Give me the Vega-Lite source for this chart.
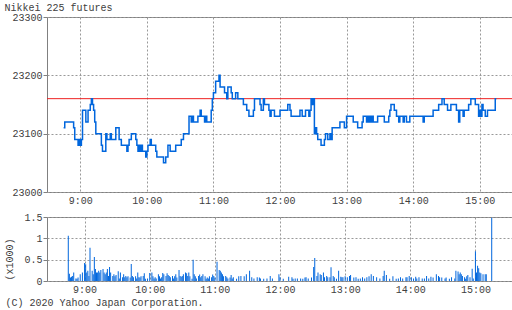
{
 "$schema": "https://vega.github.io/schema/vega-lite/v6.json",
 "background": "white",
 "padding": {"left": 3, "top": 1, "right": 0, "bottom": 0},
 "spacing": 5,
 "config": {
  "font": "Liberation Mono",
  "view": {"stroke": "#808080"},
  "axis": {"domain": false, "labelFont": "Liberation Mono", "labelFontSize": 10, "labelColor": "#404040", "titleFont": "Liberation Mono", "titleFontSize": 10, "titleFontWeight": "normal", "titleColor": "#404040", "tickColor": "#808080", "gridColor": "#999999", "gridDash": [2, 2]}
 },
 "vconcat": [
  {
   "width": 466, "height": 175,
   "layer": [
    {
     "data": {"values": [{"t":"2020-09-01T08:30","p":23160},{"t":"2020-09-01T15:30","p":23160}]},
     "mark": {"type": "line", "color": "#ee2222", "strokeWidth": 1},
     "encoding": {
      "x": {"field": "t", "type": "temporal", "scale": {"nice": false}},
      "y": {"field": "p", "type": "quantitative", "scale": {"domain": [23000, 23300]}}
     }
    },
    {
     "data": {"values": [
      {"t":"2020-09-01T08:45","p":23110},{"t":"2020-09-01T08:46","p":23120},{"t":"2020-09-01T08:54","p":23110},{"t":"2020-09-01T08:55","p":23090},{"t":"2020-09-01T08:58","p":23080},{"t":"2020-09-01T08:59","p":23090},{"t":"2020-09-01T09:00","p":23080},{"t":"2020-09-01T09:01","p":23090},{"t":"2020-09-01T09:02","p":23140},{"t":"2020-09-01T09:05","p":23120},{"t":"2020-09-01T09:07","p":23140},{"t":"2020-09-01T09:09","p":23150},{"t":"2020-09-01T09:10","p":23160},{"t":"2020-09-01T09:11","p":23150},{"t":"2020-09-01T09:12","p":23140},{"t":"2020-09-01T09:13","p":23120},{"t":"2020-09-01T09:14","p":23100},{"t":"2020-09-01T09:19","p":23080},{"t":"2020-09-01T09:20","p":23070},{"t":"2020-09-01T09:23","p":23100},{"t":"2020-09-01T09:24","p":23090},{"t":"2020-09-01T09:27","p":23100},{"t":"2020-09-01T09:28","p":23090},{"t":"2020-09-01T09:32","p":23110},{"t":"2020-09-01T09:35","p":23090},{"t":"2020-09-01T09:37","p":23080},{"t":"2020-09-01T09:42","p":23070},{"t":"2020-09-01T09:43","p":23080},{"t":"2020-09-01T09:44","p":23090},{"t":"2020-09-01T09:46","p":23100},{"t":"2020-09-01T09:50","p":23090},{"t":"2020-09-01T09:51","p":23080},{"t":"2020-09-01T09:52","p":23070},{"t":"2020-09-01T09:53","p":23080},{"t":"2020-09-01T09:54","p":23070},{"t":"2020-09-01T09:55","p":23080},{"t":"2020-09-01T09:56","p":23070},{"t":"2020-09-01T09:59","p":23060},{"t":"2020-09-01T10:00","p":23070},{"t":"2020-09-01T10:01","p":23080},{"t":"2020-09-01T10:03","p":23090},{"t":"2020-09-01T10:04","p":23080},{"t":"2020-09-01T10:08","p":23070},{"t":"2020-09-01T10:09","p":23060},{"t":"2020-09-01T10:15","p":23050},{"t":"2020-09-01T10:17","p":23060},{"t":"2020-09-01T10:19","p":23080},{"t":"2020-09-01T10:21","p":23070},{"t":"2020-09-01T10:26","p":23080},{"t":"2020-09-01T10:31","p":23090},{"t":"2020-09-01T10:33","p":23100},{"t":"2020-09-01T10:38","p":23130},{"t":"2020-09-01T10:40","p":23120},{"t":"2020-09-01T10:41","p":23130},{"t":"2020-09-01T10:42","p":23120},{"t":"2020-09-01T10:46","p":23130},{"t":"2020-09-01T10:48","p":23140},{"t":"2020-09-01T10:49","p":23130},{"t":"2020-09-01T10:52","p":23120},{"t":"2020-09-01T10:53","p":23130},{"t":"2020-09-01T10:54","p":23120},{"t":"2020-09-01T10:58","p":23140},{"t":"2020-09-01T10:59","p":23160},{"t":"2020-09-01T11:00","p":23170},{"t":"2020-09-01T11:02","p":23190},{"t":"2020-09-01T11:05","p":23200},{"t":"2020-09-01T11:06","p":23180},{"t":"2020-09-01T11:10","p":23170},{"t":"2020-09-01T11:12","p":23160},{"t":"2020-09-01T11:13","p":23180},{"t":"2020-09-01T11:16","p":23170},{"t":"2020-09-01T11:17","p":23160},{"t":"2020-09-01T11:20","p":23170},{"t":"2020-09-01T11:22","p":23160},{"t":"2020-09-01T11:27","p":23150},{"t":"2020-09-01T11:30","p":23140},{"t":"2020-09-01T11:32","p":23130},{"t":"2020-09-01T11:36","p":23140},{"t":"2020-09-01T11:37","p":23160},{"t":"2020-09-01T11:42","p":23150},{"t":"2020-09-01T11:43","p":23140},{"t":"2020-09-01T11:45","p":23160},{"t":"2020-09-01T11:46","p":23150},{"t":"2020-09-01T11:50","p":23140},{"t":"2020-09-01T11:51","p":23130},{"t":"2020-09-01T11:52","p":23140},{"t":"2020-09-01T11:55","p":23130},{"t":"2020-09-01T12:00","p":23140},{"t":"2020-09-01T12:07","p":23150},{"t":"2020-09-01T12:09","p":23140},{"t":"2020-09-01T12:10","p":23130},{"t":"2020-09-01T12:18","p":23140},{"t":"2020-09-01T12:20","p":23130},{"t":"2020-09-01T12:23","p":23140},{"t":"2020-09-01T12:26","p":23130},{"t":"2020-09-01T12:27","p":23140},{"t":"2020-09-01T12:28","p":23160},{"t":"2020-09-01T12:29","p":23150},{"t":"2020-09-01T12:30","p":23160},{"t":"2020-09-01T12:31","p":23100},{"t":"2020-09-01T12:32","p":23110},{"t":"2020-09-01T12:33","p":23100},{"t":"2020-09-01T12:34","p":23090},{"t":"2020-09-01T12:37","p":23080},{"t":"2020-09-01T12:40","p":23090},{"t":"2020-09-01T12:41","p":23100},{"t":"2020-09-01T12:43","p":23090},{"t":"2020-09-01T12:45","p":23100},{"t":"2020-09-01T12:46","p":23090},{"t":"2020-09-01T12:47","p":23110},{"t":"2020-09-01T12:54","p":23120},{"t":"2020-09-01T12:58","p":23110},{"t":"2020-09-01T13:00","p":23130},{"t":"2020-09-01T13:06","p":23120},{"t":"2020-09-01T13:10","p":23110},{"t":"2020-09-01T13:14","p":23120},{"t":"2020-09-01T13:15","p":23130},{"t":"2020-09-01T13:18","p":23120},{"t":"2020-09-01T13:19","p":23130},{"t":"2020-09-01T13:20","p":23120},{"t":"2020-09-01T13:21","p":23130},{"t":"2020-09-01T13:22","p":23120},{"t":"2020-09-01T13:23","p":23130},{"t":"2020-09-01T13:24","p":23120},{"t":"2020-09-01T13:28","p":23130},{"t":"2020-09-01T13:34","p":23120},{"t":"2020-09-01T13:38","p":23130},{"t":"2020-09-01T13:39","p":23140},{"t":"2020-09-01T13:40","p":23150},{"t":"2020-09-01T13:43","p":23140},{"t":"2020-09-01T13:45","p":23130},{"t":"2020-09-01T13:47","p":23120},{"t":"2020-09-01T13:48","p":23130},{"t":"2020-09-01T13:51","p":23120},{"t":"2020-09-01T13:52","p":23130},{"t":"2020-09-01T13:54","p":23120},{"t":"2020-09-01T13:57","p":23130},{"t":"2020-09-01T14:09","p":23120},{"t":"2020-09-01T14:10","p":23130},{"t":"2020-09-01T14:18","p":23140},{"t":"2020-09-01T14:23","p":23150},{"t":"2020-09-01T14:26","p":23160},{"t":"2020-09-01T14:28","p":23150},{"t":"2020-09-01T14:31","p":23140},{"t":"2020-09-01T14:34","p":23150},{"t":"2020-09-01T14:39","p":23140},{"t":"2020-09-01T14:41","p":23120},{"t":"2020-09-01T14:42","p":23140},{"t":"2020-09-01T14:45","p":23130},{"t":"2020-09-01T14:46","p":23140},{"t":"2020-09-01T14:50","p":23150},{"t":"2020-09-01T14:52","p":23160},{"t":"2020-09-01T14:56","p":23150},{"t":"2020-09-01T14:59","p":23130},{"t":"2020-09-01T15:00","p":23140},{"t":"2020-09-01T15:01","p":23130},{"t":"2020-09-01T15:02","p":23150},{"t":"2020-09-01T15:03","p":23140},{"t":"2020-09-01T15:05","p":23130},{"t":"2020-09-01T15:07","p":23140},{"t":"2020-09-01T15:14","p":23160},{"t":"2020-09-01T15:15","p":23160}
     ]},
     "mark": {"type": "line", "interpolate": "step-after", "color": "#0066dd", "strokeWidth": 1.5},
     "encoding": {
      "x": {"field": "t", "type": "temporal", "scale": {"nice": false},
       "axis": {"title": null, "tickCount": 7, "grid": true, "ticks": false, "labelPadding": 3, "format": "%-H:%M"}},
      "y": {"field": "p", "type": "quantitative", "scale": {"domain": [23000, 23300]},
       "axis": {"values": [23000, 23100, 23200, 23300], "format": "d", "grid": true, "tickSize": 4, "labelPadding": 1,
        "title": "Nikkei 225 futures", "titleAngle": 0, "titleAlign": "left", "titleBaseline": "middle", "titleX": -43, "titleY": -10}}
     }
    }
   ]
  },
  {
   "width": 466, "height": 64,
   "layer": [
    {
     "data": {"values": [{"t":"2020-09-01T08:30"},{"t":"2020-09-01T15:30"}]},
     "mark": {"type": "rule", "opacity": 0},
     "encoding": {"x": {"field": "t", "type": "temporal", "scale": {"nice": false}}}
    },
    {
     "data": {"values": [
      {"t":"2020-09-01T08:45","v":1.06},{"t":"2020-09-01T08:46","v":0.17},{"t":"2020-09-01T08:47","v":0.08},{"t":"2020-09-01T08:48","v":0.1},{"t":"2020-09-01T08:49","v":0.12},{"t":"2020-09-01T08:50","v":0.2},{"t":"2020-09-01T08:52","v":0.06},{"t":"2020-09-01T08:53","v":0.05},{"t":"2020-09-01T08:54","v":0.08},{"t":"2020-09-01T08:56","v":0.16},{"t":"2020-09-01T08:58","v":0.2},{"t":"2020-09-01T09:00","v":0.42},{"t":"2020-09-01T09:01","v":0.39},{"t":"2020-09-01T09:02","v":0.2},{"t":"2020-09-01T09:03","v":0.24},{"t":"2020-09-01T09:04","v":0.12},{"t":"2020-09-01T09:05","v":0.78},{"t":"2020-09-01T09:07","v":0.24},{"t":"2020-09-01T09:08","v":0.16},{"t":"2020-09-01T09:09","v":0.56},{"t":"2020-09-01T09:10","v":0.28},{"t":"2020-09-01T09:11","v":0.2},{"t":"2020-09-01T09:12","v":0.2},{"t":"2020-09-01T09:13","v":0.24},{"t":"2020-09-01T09:14","v":0.2},{"t":"2020-09-01T09:15","v":0.26},{"t":"2020-09-01T09:17","v":0.28},{"t":"2020-09-01T09:18","v":0.2},{"t":"2020-09-01T09:19","v":0.16},{"t":"2020-09-01T09:20","v":0.2},{"t":"2020-09-01T09:21","v":0.28},{"t":"2020-09-01T09:22","v":0.12},{"t":"2020-09-01T09:23","v":0.33},{"t":"2020-09-01T09:24","v":0.2},{"t":"2020-09-01T09:26","v":0.12},{"t":"2020-09-01T09:27","v":0.16},{"t":"2020-09-01T09:28","v":0.11},{"t":"2020-09-01T09:29","v":0.14},{"t":"2020-09-01T09:31","v":0.23},{"t":"2020-09-01T09:32","v":0.06},{"t":"2020-09-01T09:33","v":0.2},{"t":"2020-09-01T09:35","v":0.09},{"t":"2020-09-01T09:36","v":0.16},{"t":"2020-09-01T09:37","v":0.09},{"t":"2020-09-01T09:38","v":0.12},{"t":"2020-09-01T09:39","v":0.085},{"t":"2020-09-01T09:40","v":0.11},{"t":"2020-09-01T09:42","v":0.08},{"t":"2020-09-01T09:43","v":0.4},{"t":"2020-09-01T09:44","v":0.12},{"t":"2020-09-01T09:45","v":0.09},{"t":"2020-09-01T09:47","v":0.11},{"t":"2020-09-01T09:48","v":0.06},{"t":"2020-09-01T09:49","v":0.2},{"t":"2020-09-01T09:50","v":0.09},{"t":"2020-09-01T09:51","v":0.08},{"t":"2020-09-01T09:52","v":0.11},{"t":"2020-09-01T09:54","v":0.12},{"t":"2020-09-01T09:55","v":0.18},{"t":"2020-09-01T09:56","v":0.05},{"t":"2020-09-01T09:58","v":0.06},{"t":"2020-09-01T10:00","v":0.19},{"t":"2020-09-01T10:02","v":0.2},{"t":"2020-09-01T10:03","v":0.11},{"t":"2020-09-01T10:04","v":0.06},{"t":"2020-09-01T10:05","v":0.085},{"t":"2020-09-01T10:06","v":0.06},{"t":"2020-09-01T10:08","v":0.16},{"t":"2020-09-01T10:09","v":0.11},{"t":"2020-09-01T10:10","v":0.06},{"t":"2020-09-01T10:11","v":0.09},{"t":"2020-09-01T10:12","v":0.19},{"t":"2020-09-01T10:13","v":0.16},{"t":"2020-09-01T10:15","v":0.12},{"t":"2020-09-01T10:16","v":0.18},{"t":"2020-09-01T10:17","v":0.14},{"t":"2020-09-01T10:18","v":0.12},{"t":"2020-09-01T10:19","v":0.085},{"t":"2020-09-01T10:21","v":0.12},{"t":"2020-09-01T10:22","v":0.06},{"t":"2020-09-01T10:23","v":0.11},{"t":"2020-09-01T10:24","v":0.16},{"t":"2020-09-01T10:25","v":0.08},{"t":"2020-09-01T10:27","v":0.26},{"t":"2020-09-01T10:28","v":0.12},{"t":"2020-09-01T10:29","v":0.1},{"t":"2020-09-01T10:30","v":0.12},{"t":"2020-09-01T10:31","v":0.16},{"t":"2020-09-01T10:33","v":0.2},{"t":"2020-09-01T10:34","v":0.18},{"t":"2020-09-01T10:35","v":0.12},{"t":"2020-09-01T10:36","v":0.2},{"t":"2020-09-01T10:37","v":0.11},{"t":"2020-09-01T10:39","v":0.05},{"t":"2020-09-01T10:40","v":0.5},{"t":"2020-09-01T10:41","v":0.16},{"t":"2020-09-01T10:42","v":0.11},{"t":"2020-09-01T10:43","v":0.06},{"t":"2020-09-01T10:45","v":0.12},{"t":"2020-09-01T10:46","v":0.15},{"t":"2020-09-01T10:47","v":0.09},{"t":"2020-09-01T10:48","v":0.12},{"t":"2020-09-01T10:49","v":0.16},{"t":"2020-09-01T10:51","v":0.11},{"t":"2020-09-01T10:52","v":0.05},{"t":"2020-09-01T10:53","v":0.08},{"t":"2020-09-01T10:54","v":0.06},{"t":"2020-09-01T10:55","v":0.11},{"t":"2020-09-01T10:57","v":0.09},{"t":"2020-09-01T10:58","v":0.15},{"t":"2020-09-01T10:59","v":0.12},{"t":"2020-09-01T11:00","v":0.08},{"t":"2020-09-01T11:02","v":0.45},{"t":"2020-09-01T11:04","v":0.26},{"t":"2020-09-01T11:05","v":0.24},{"t":"2020-09-01T11:06","v":0.2},{"t":"2020-09-01T11:07","v":0.16},{"t":"2020-09-01T11:08","v":0.11},{"t":"2020-09-01T11:10","v":0.12},{"t":"2020-09-01T11:11","v":0.09},{"t":"2020-09-01T11:12","v":0.06},{"t":"2020-09-01T11:14","v":0.08},{"t":"2020-09-01T11:15","v":0.14},{"t":"2020-09-01T11:16","v":0.06},{"t":"2020-09-01T11:17","v":0.085},{"t":"2020-09-01T11:20","v":0.05},{"t":"2020-09-01T11:22","v":0.11},{"t":"2020-09-01T11:24","v":0.12},{"t":"2020-09-01T11:27","v":0.11},{"t":"2020-09-01T11:29","v":0.16},{"t":"2020-09-01T11:32","v":0.24},{"t":"2020-09-01T11:34","v":0.085},{"t":"2020-09-01T11:36","v":0.06},{"t":"2020-09-01T11:39","v":0.085},{"t":"2020-09-01T11:41","v":0.08},{"t":"2020-09-01T11:42","v":0.06},{"t":"2020-09-01T11:45","v":0.05},{"t":"2020-09-01T11:48","v":0.06},{"t":"2020-09-01T11:51","v":0.12},{"t":"2020-09-01T11:53","v":0.06},{"t":"2020-09-01T11:59","v":0.16},{"t":"2020-09-01T12:00","v":0.085},{"t":"2020-09-01T12:03","v":0.05},{"t":"2020-09-01T12:08","v":0.1},{"t":"2020-09-01T12:11","v":0.085},{"t":"2020-09-01T12:12","v":0.05},{"t":"2020-09-01T12:14","v":0.06},{"t":"2020-09-01T12:16","v":0.06},{"t":"2020-09-01T12:19","v":0.06},{"t":"2020-09-01T12:21","v":0.05},{"t":"2020-09-01T12:23","v":0.08},{"t":"2020-09-01T12:24","v":0.09},{"t":"2020-09-01T12:26","v":0.06},{"t":"2020-09-01T12:29","v":0.08},{"t":"2020-09-01T12:31","v":0.33},{"t":"2020-09-01T12:32","v":0.54},{"t":"2020-09-01T12:34","v":0.12},{"t":"2020-09-01T12:35","v":0.2},{"t":"2020-09-01T12:37","v":0.16},{"t":"2020-09-01T12:38","v":0.14},{"t":"2020-09-01T12:40","v":0.2},{"t":"2020-09-01T12:41","v":0.085},{"t":"2020-09-01T12:43","v":0.12},{"t":"2020-09-01T12:44","v":0.085},{"t":"2020-09-01T12:46","v":0.085},{"t":"2020-09-01T12:47","v":0.32},{"t":"2020-09-01T12:49","v":0.12},{"t":"2020-09-01T12:50","v":0.09},{"t":"2020-09-01T12:52","v":0.05},{"t":"2020-09-01T12:54","v":0.24},{"t":"2020-09-01T12:56","v":0.1},{"t":"2020-09-01T12:57","v":0.085},{"t":"2020-09-01T12:58","v":0.085},{"t":"2020-09-01T13:00","v":0.11},{"t":"2020-09-01T13:02","v":0.09},{"t":"2020-09-01T13:04","v":0.12},{"t":"2020-09-01T13:05","v":0.14},{"t":"2020-09-01T13:08","v":0.08},{"t":"2020-09-01T13:10","v":0.085},{"t":"2020-09-01T13:12","v":0.055},{"t":"2020-09-01T13:14","v":0.06},{"t":"2020-09-01T13:16","v":0.085},{"t":"2020-09-01T13:18","v":0.06},{"t":"2020-09-01T13:20","v":0.085},{"t":"2020-09-01T13:22","v":0.11},{"t":"2020-09-01T13:24","v":0.16},{"t":"2020-09-01T13:26","v":0.12},{"t":"2020-09-01T13:29","v":0.09},{"t":"2020-09-01T13:32","v":0.06},{"t":"2020-09-01T13:35","v":0.12},{"t":"2020-09-01T13:36","v":0.24},{"t":"2020-09-01T13:38","v":0.14},{"t":"2020-09-01T13:41","v":0.05},{"t":"2020-09-01T13:44","v":0.11},{"t":"2020-09-01T13:47","v":0.05},{"t":"2020-09-01T13:49","v":0.06},{"t":"2020-09-01T13:51","v":0.09},{"t":"2020-09-01T13:53","v":0.06},{"t":"2020-09-01T13:56","v":0.09},{"t":"2020-09-01T13:57","v":0.085},{"t":"2020-09-01T13:59","v":0.12},{"t":"2020-09-01T14:01","v":0.085},{"t":"2020-09-01T14:03","v":0.06},{"t":"2020-09-01T14:05","v":0.1},{"t":"2020-09-01T14:06","v":0.06},{"t":"2020-09-01T14:08","v":0.085},{"t":"2020-09-01T14:11","v":0.06},{"t":"2020-09-01T14:13","v":0.06},{"t":"2020-09-01T14:15","v":0.12},{"t":"2020-09-01T14:17","v":0.06},{"t":"2020-09-01T14:19","v":0.1},{"t":"2020-09-01T14:21","v":0.08},{"t":"2020-09-01T14:24","v":0.16},{"t":"2020-09-01T14:26","v":0.12},{"t":"2020-09-01T14:27","v":0.09},{"t":"2020-09-01T14:29","v":0.08},{"t":"2020-09-01T14:32","v":0.06},{"t":"2020-09-01T14:33","v":0.08},{"t":"2020-09-01T14:36","v":0.055},{"t":"2020-09-01T14:38","v":0.09},{"t":"2020-09-01T14:41","v":0.06},{"t":"2020-09-01T14:42","v":0.24},{"t":"2020-09-01T14:44","v":0.22},{"t":"2020-09-01T14:45","v":0.16},{"t":"2020-09-01T14:46","v":0.2},{"t":"2020-09-01T14:47","v":0.16},{"t":"2020-09-01T14:48","v":0.12},{"t":"2020-09-01T14:50","v":0.09},{"t":"2020-09-01T14:51","v":0.05},{"t":"2020-09-01T14:52","v":0.11},{"t":"2020-09-01T14:53","v":0.14},{"t":"2020-09-01T14:55","v":0.085},{"t":"2020-09-01T14:57","v":0.29},{"t":"2020-09-01T14:58","v":0.06},{"t":"2020-09-01T15:00","v":0.7},{"t":"2020-09-01T15:01","v":0.2},{"t":"2020-09-01T15:02","v":0.36},{"t":"2020-09-01T15:03","v":0.3},{"t":"2020-09-01T15:04","v":0.2},{"t":"2020-09-01T15:05","v":0.18},{"t":"2020-09-01T15:07","v":0.16},{"t":"2020-09-01T15:09","v":0.16},{"t":"2020-09-01T15:10","v":0.16},{"t":"2020-09-01T15:15","v":1.48}
     ]},
     "mark": {"type": "bar", "width": 1, "color": "#0066dd"},
     "encoding": {
      "x": {"field": "t", "type": "temporal", "scale": {"nice": false},
       "axis": {"tickCount": 7, "grid": true, "ticks": false, "labelPadding": 3, "format": "%-H:%M",
        "title": "(C) 2020 Yahoo Japan Corporation.", "titleAnchor": "start", "titleAlign": "left", "titleBaseline": "middle", "titleAngle": 0, "titleX": -42, "titleY": 21}},
      "y": {"field": "v", "type": "quantitative", "scale": {"domain": [0, 1.5]},
       "axis": {"values": [0, 0.5, 1, 1.5], "format": "~g", "grid": true, "tickSize": 4, "labelPadding": 1,
        "title": "(x1000)", "titleAngle": 270, "titleBaseline": "middle", "titleX": -38, "titleY": 42}}
     }
    }
   ]
  }
 ]
}
